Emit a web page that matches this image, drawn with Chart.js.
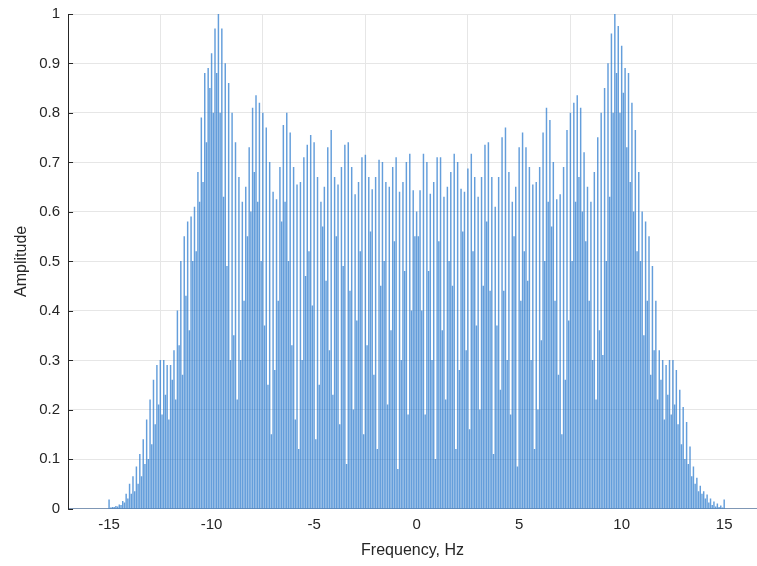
<!DOCTYPE html>
<html>
<head>
<meta charset="utf-8">
<script src="https://cdn.jsdelivr.net/npm/chart.js@4.4.0/dist/chart.umd.min.js"></script>
<style>
  html, body { margin: 0; padding: 0; background: #fff; }
  #wrap { width: 757px; height: 566px; }
</style>
</head>
<body>
<div id="wrap"><canvas id="chart" width="757" height="566"></canvas></div>
<script>
// Spectrum stems.
// Tall stems sit on a 1/6 Hz grid from -15 Hz; the shorter ones sit halfway between.
const fStart = -15;
const fStep = 1 / 6;

const peakAmp = [
  0.018, 0.003, 0.005, 0.008, 0.015, 0.03, 0.05, 0.065, 0.085, 0.11,
  0.14, 0.18, 0.22, 0.26, 0.29, 0.30, 0.30, 0.29, 0.29, 0.32,
  0.40, 0.50, 0.55, 0.58, 0.59, 0.61, 0.68, 0.79, 0.88, 0.89,
  0.92, 0.97, 1.00, 0.97, 0.90, 0.86, 0.80, 0.74, 0.67, 0.62,
  0.65, 0.73, 0.81, 0.835, 0.82, 0.80, 0.77, 0.70, 0.64, 0.625,
  0.69, 0.775, 0.80, 0.76, 0.69, 0.655, 0.66, 0.71, 0.735, 0.755,
  0.74, 0.67, 0.62, 0.65, 0.73, 0.765, 0.67, 0.655, 0.69, 0.735,
  0.74, 0.69, 0.635, 0.66, 0.71, 0.715, 0.67, 0.645, 0.67, 0.705,
  0.70, 0.66, 0.65, 0.69, 0.71, 0.64, 0.66, 0.70, 0.717, 0.643,
  0.60, 0.643, 0.717, 0.70, 0.636, 0.66, 0.71, 0.71, 0.63, 0.65,
  0.68, 0.717, 0.70, 0.646, 0.64, 0.687, 0.717, 0.67, 0.63, 0.67,
  0.735, 0.74, 0.67, 0.61, 0.67, 0.75, 0.77, 0.68, 0.62, 0.65,
  0.73, 0.76, 0.73, 0.69, 0.655, 0.66, 0.69, 0.76, 0.81, 0.785,
  0.70, 0.625, 0.635, 0.69, 0.765, 0.80, 0.82, 0.835, 0.81, 0.72,
  0.65, 0.62, 0.68, 0.75, 0.80, 0.85, 0.90, 0.96, 1.00, 0.975,
  0.935, 0.89, 0.88, 0.82, 0.765, 0.68, 0.60, 0.58, 0.55, 0.49,
  0.42, 0.32, 0.30, 0.29, 0.30, 0.30, 0.28, 0.24, 0.205, 0.175,
  0.125, 0.085, 0.062, 0.046, 0.035, 0.028, 0.02, 0.014, 0.01, 0.006,
  0.018
];

const valleyAmp = [
  0.002, 0.003, 0.004, 0.007, 0.012, 0.02, 0.03, 0.035, 0.05, 0.065,
  0.09, 0.10, 0.13, 0.17, 0.21, 0.19, 0.23, 0.18, 0.26, 0.22,
  0.33, 0.27, 0.43, 0.36, 0.50, 0.52, 0.62, 0.66, 0.74, 0.85,
  0.80, 0.88, 0.80, 0.63, 0.49, 0.30, 0.35, 0.22, 0.30, 0.42,
  0.55, 0.60, 0.68, 0.62, 0.50, 0.37, 0.25, 0.15, 0.28, 0.42,
  0.58, 0.62, 0.50, 0.33, 0.18, 0.12, 0.30, 0.47, 0.52, 0.41,
  0.14, 0.25, 0.57, 0.46, 0.32, 0.23, 0.55, 0.17, 0.49, 0.09,
  0.44, 0.20, 0.38, 0.52, 0.15, 0.33, 0.56, 0.27, 0.12, 0.45,
  0.50, 0.21, 0.36, 0.54, 0.08, 0.30, 0.48, 0.19, 0.40, 0.55,
  0.55, 0.40, 0.19, 0.48, 0.30, 0.10, 0.54, 0.36, 0.22, 0.50,
  0.45, 0.12, 0.28, 0.56, 0.32, 0.16, 0.52, 0.37, 0.20, 0.45,
  0.58, 0.44, 0.11, 0.37, 0.24, 0.44, 0.30, 0.19, 0.55, 0.085,
  0.42, 0.52, 0.46, 0.30, 0.12, 0.20, 0.34, 0.50, 0.62, 0.57,
  0.42, 0.27, 0.15, 0.26, 0.38, 0.50, 0.62, 0.67, 0.60, 0.54,
  0.42, 0.30, 0.22, 0.36, 0.31, 0.50, 0.63, 0.80, 0.88, 0.80,
  0.84, 0.73, 0.66, 0.60, 0.52, 0.50, 0.35, 0.42, 0.27, 0.32,
  0.22, 0.26, 0.18, 0.23, 0.19, 0.21, 0.17, 0.13, 0.10, 0.09,
  0.065, 0.05, 0.035, 0.03, 0.02, 0.012, 0.007, 0.004, 0.003, 0.002
];

const xTicks = [-15, -10, -5, 0, 5, 10, 15];
const yTicks = [0, 0.1, 0.2, 0.3, 0.4, 0.5, 0.6, 0.7, 0.8, 0.9, 1];

const stemColor = 'rgba(40, 120, 205, 0.72)';
const textColor = '#262626';
const fontFamily = '"Liberation Sans", Arial, Helvetica, sans-serif';

const peakPoints = peakAmp.map((a, i) => ({ x: fStart + i * fStep, y: a }));
const valleyPoints = valleyAmp.map((a, i) => ({ x: fStart + (i + 0.5) * fStep, y: a }));

// MATLAB style inward tick marks on the left axis
const innerTicks = {
  id: 'innerTicks',
  afterDatasetsDraw(chart) {
    const { ctx, chartArea, scales } = chart;
    ctx.save();
    ctx.strokeStyle = textColor;
    ctx.lineWidth = 1;
    ctx.beginPath();
    yTicks.forEach(v => {
      const y = Math.round(scales.y.getPixelForValue(v)) + 0.5;
      ctx.moveTo(chartArea.left, y);
      ctx.lineTo(chartArea.left + 5, y);
    });
    ctx.stroke();
    ctx.restore();
  }
};

new Chart(document.getElementById('chart'), {
  type: 'bar',
  data: {
    datasets: [
      { data: peakPoints, backgroundColor: stemColor, barThickness: 0.8, grouped: false },
      { data: valleyPoints, backgroundColor: stemColor, barThickness: 0.8, grouped: false }
    ]
  },
  options: {
    responsive: false,
    animation: false,
    layout: { padding: { left: 12, top: 14, right: 0, bottom: 6 } },
    plugins: {
      legend: { display: false },
      tooltip: { enabled: false }
    },
    scales: {
      x: {
        type: 'linear',
        min: -17,
        max: 16.6,
        offset: false,
        afterBuildTicks: s => { s.ticks = xTicks.map(v => ({ value: v })); },
        grid: { color: '#e6e6e6', drawTicks: false },
        border: { color: '#7f97b5' },
        ticks: {
          color: textColor,
          padding: 7,
          maxRotation: 0,
          font: { family: fontFamily, size: 15 },
          callback: v => String(v)
        },
        title: {
          display: true,
          text: 'Frequency, Hz',
          color: textColor,
          font: { family: fontFamily, size: 16 },
          padding: { top: 0, bottom: 0 }
        }
      },
      y: {
        min: 0,
        max: 1,
        afterBuildTicks: s => { s.ticks = yTicks.map(v => ({ value: v })); },
        afterFit: s => { s.paddingTop = 0; },
        grid: { color: '#e6e6e6', drawTicks: false },
        border: { color: textColor },
        ticks: {
          color: textColor,
          padding: 8,
          font: { family: fontFamily, size: 15 },
          callback: v => String(v)
        },
        title: {
          display: true,
          text: 'Amplitude',
          color: textColor,
          font: { family: fontFamily, size: 16 },
          padding: { top: 0, bottom: 0 }
        }
      }
    }
  },
  plugins: [innerTicks]
});
</script>
</body>
</html>
